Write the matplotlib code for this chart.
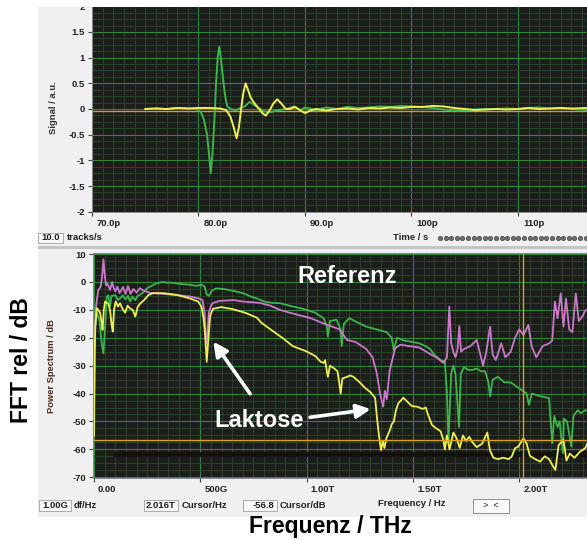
import numpy as np
import matplotlib
matplotlib.use("Agg")
import matplotlib.pyplot as plt
import matplotlib.transforms as mtransforms
from matplotlib.patches import Rectangle
from matplotlib.lines import Line2D
from matplotlib.ticker import MultipleLocator

plt.rcParams["font.family"] = ["Liberation Sans", "DejaVu Sans"]

# --- Zeitsignal (ps, a.u.) ---
t_ref = [75.0, 76.0, 77.0, 78.0, 79.0, 79.8, 80.2, 80.5, 80.8, 81.0, 81.15, 81.3, 81.5,
         81.65, 81.8, 81.95, 82.1, 82.3, 82.5, 82.7, 83.0, 83.5, 84.0, 84.4, 84.8, 85.1,
         85.4, 85.8, 86.2, 86.8, 87.5, 88.2, 89.0, 89.6, 90.0, 91.0, 92.0, 93.0, 94.0,
         95.0, 96.0, 97.0, 98.0, 99.0, 100.0, 101.0, 102.0, 103.0, 104.0, 105.0, 106.0,
         107.0, 108.0, 109.0, 110.0, 111.0, 112.0, 113.0, 114.0, 115.0, 116.5]
s_ref = [0.0, 0.01, 0.0, 0.02, 0.01, 0.0, -0.05, -0.2, -0.5, -0.9, -1.25, -0.9, -0.2,
         0.5, 1.0, 1.21, 1.0, 0.6, 0.25, 0.05, 0.0, -0.02, 0.02, 0.06, 0.14, 0.1,
         0.05, 0.0, -0.05, -0.06, -0.02, 0.0, 0.05, -0.02, 0.03, -0.02, 0.03, 0.0, 0.04,
         0.02, 0.03, 0.05, 0.04, 0.06, 0.05, 0.04, 0.02, -0.01, -0.03, -0.02, -0.01,
         0.0, 0.0, 0.01, 0.0, 0.02, 0.03, 0.01, 0.02, 0.0, -0.02]

t_lak = [75.0, 76.0, 77.0, 78.0, 79.0, 80.0, 81.0, 82.0, 82.6, 83.0, 83.3, 83.58, 83.8,
         84.0, 84.2, 84.42, 84.6, 84.9, 85.3, 85.7, 86.0, 86.32, 86.7, 87.0, 87.4, 87.8,
         88.2, 88.6, 89.06, 89.5, 90.0, 90.5, 91.0, 92.0, 93.0, 94.0, 95.0, 96.0, 97.0,
         98.0, 99.0, 100.0, 101.0, 102.0, 103.0, 104.0, 105.0, 106.0, 107.0, 108.0, 109.0,
         110.0, 111.0, 112.0, 113.0, 114.0, 115.0, 116.5]
s_lak = [0.0, 0.01, 0.0, 0.02, 0.01, 0.02, 0.02, 0.01, -0.02, -0.15, -0.35, -0.57, -0.35,
         0.0, 0.3, 0.5, 0.4, 0.22, 0.1, 0.0, -0.08, -0.13, -0.02, 0.1, 0.19, 0.1,
         0.0, 0.0, 0.04, -0.02, -0.08, -0.03, 0.0, -0.03, 0.0, 0.01, -0.01, 0.02, 0.01,
         0.03, 0.02, 0.04, 0.04, 0.06, 0.05, 0.02, 0.0, -0.02, -0.01, 0.0, -0.01,
         0.0, 0.02, 0.0, 0.01, 0.02, 0.01, 0.02]

t_cursor = -0.04

# --- Spektren (THz, dB) ---
f_gruen = [0.005, 0.013, 0.025, 0.036, 0.044, 0.052, 0.060, 0.067, 0.075, 0.082, 0.100,
           0.112, 0.122, 0.135, 0.148, 0.160, 0.169, 0.180, 0.193, 0.205, 0.218, 0.235,
           0.250, 0.263, 0.280, 0.294, 0.310, 0.326, 0.345, 0.360, 0.388, 0.420, 0.451,
           0.480, 0.505, 0.520, 0.530, 0.540, 0.555, 0.575, 0.610, 0.650, 0.700, 0.740,
           0.766, 0.800, 0.840, 0.875, 0.920, 0.970, 1.000, 1.040, 1.080, 1.095, 1.100,
           1.110, 1.140, 1.160, 1.165, 1.175, 1.200, 1.240, 1.280, 1.330, 1.377, 1.400,
           1.410, 1.425, 1.460, 1.490, 1.530, 1.560, 1.580, 1.600, 1.630, 1.650, 1.660,
           1.667, 1.680, 1.690, 1.700, 1.717, 1.725, 1.740, 1.760, 1.780, 1.800, 1.820,
           1.840, 1.855, 1.863, 1.875, 1.900, 1.930, 1.960, 1.990, 2.035, 2.045, 2.060,
           2.100, 2.140, 2.155, 2.165, 2.180, 2.190, 2.205, 2.210, 2.225, 2.245, 2.255,
           2.275, 2.290, 2.310, 2.320]
db_gruen = [-16, -11, -13.6, -22, -25.6, -16, -5.3, -4.7, -8.8, -5, -4.7,
            -6.5, -5.9, -4.8, -6.2, -5, -7, -5.2, -6.5, -5, -4.5, -3.5,
            -2.2, -1.7, -1.0, -0.5, -0.2, 0.0, -0.3, -0.2, -0.5, -0.8, -1.0,
            -1.4, -1.0, -1.6, -4.5, -5.0, -3.0, -2.3, -2.5, -3.1, -4, -5.3,
            -5.9, -7, -7.5, -7.6, -8.5, -9.4, -10, -11, -13, -16, -19.6,
            -14, -13.5, -17, -23, -15, -13, -14.5, -16, -17, -18, -20,
            -24.4, -20, -21, -21.4, -22, -23, -24, -26, -28, -28.5, -40,
            -57.8, -32.7, -30, -33, -52, -33, -30.5, -31.5, -31.5, -31, -32,
            -32, -36, -41, -35, -34, -36, -36, -37.6, -40, -44, -40,
            -41, -41.6, -57.8, -48, -52, -50, -61.4, -49, -50, -59, -48,
            -46, -47, -46, -46]

f_pink = [0.000, 0.004, 0.008, 0.013, 0.020, 0.031, 0.038, 0.044, 0.050, 0.056, 0.062,
          0.068, 0.075, 0.085, 0.092, 0.100, 0.110, 0.120, 0.136, 0.148, 0.160, 0.172,
          0.185, 0.200, 0.216, 0.230, 0.263, 0.295, 0.330, 0.357, 0.400, 0.450, 0.490,
          0.510, 0.520, 0.527, 0.532, 0.540, 0.550, 0.560, 0.590, 0.656, 0.700, 0.780,
          0.830, 0.875, 0.920, 0.970, 1.020, 1.077, 1.120, 1.155, 1.190, 1.230, 1.280,
          1.310, 1.330, 1.345, 1.360, 1.368, 1.377, 1.390, 1.416, 1.440, 1.486, 1.530,
          1.580, 1.610, 1.643, 1.660, 1.671, 1.680, 1.690, 1.700, 1.710, 1.718, 1.726,
          1.740, 1.770, 1.800, 1.830, 1.845, 1.863, 1.875, 1.890, 1.915, 1.935, 1.960,
          1.980, 2.000, 2.020, 2.043, 2.058, 2.080, 2.110, 2.140, 2.155, 2.168, 2.180,
          2.195, 2.208, 2.220, 2.235, 2.250, 2.266, 2.280, 2.300, 2.310, 2.320]
db_pink = [-44, -20, -10, -6.5, -2.9, -1.7, 2, 8.1, 3, -1.2, -0.5,
           -1.5, -2.9, 0, -2, -3.4, -1.7, -4.0, -1.8, -4.3, -1.5, -4.3,
           -2.5, -3.8, -2.2, -3.0, -3.9, -4.1, -4.3, -4.5, -4.8, -5.2, -5.8,
           -6.5, -11, -22, -20, -11, -8.5, -7.5, -6.8, -6.5, -7, -7.5,
           -8.5, -10, -11, -12, -13, -14.8, -16, -17, -20.8, -21.5, -24,
           -27, -32.7, -40, -44.7, -39, -42, -32, -23.8, -22.5, -23, -23.5,
           -25.8, -27, -29, -27, -8.8, -22, -25, -27, -24, -15.8, -25,
           -24, -23, -20.8, -30, -25, -16, -26, -28, -22, -27, -25,
           -20, -17, -19, -15.4, -23, -27, -23, -22, -21, -7, -13,
           -4.1, -16, -6, -17, -18, -4.1, -14, -12, -10.2, -10]

f_gelb = [0.000, 0.003, 0.006, 0.013, 0.020, 0.028, 0.035, 0.040, 0.046, 0.052, 0.060,
          0.067, 0.075, 0.082, 0.088, 0.094, 0.102, 0.113, 0.122, 0.133, 0.146, 0.158,
          0.170, 0.182, 0.194, 0.205, 0.216, 0.235, 0.257, 0.280, 0.326, 0.388, 0.451,
          0.490, 0.506, 0.515, 0.522, 0.530, 0.537, 0.546, 0.560, 0.598, 0.650, 0.710,
          0.766, 0.787, 0.830, 0.889, 0.935, 0.997, 1.040, 1.066, 1.080, 1.087, 1.095,
          1.100, 1.110, 1.130, 1.145, 1.155, 1.160, 1.168, 1.190, 1.205, 1.220, 1.250,
          1.275, 1.300, 1.322, 1.330, 1.337, 1.345, 1.350, 1.358, 1.366, 1.375, 1.392,
          1.400, 1.410, 1.420, 1.431, 1.455, 1.475, 1.495, 1.520, 1.545, 1.560, 1.573,
          1.590, 1.610, 1.630, 1.643, 1.650, 1.660, 1.672, 1.690, 1.705, 1.720, 1.735,
          1.750, 1.765, 1.780, 1.800, 1.825, 1.850, 1.862, 1.878, 1.900, 1.925, 1.950,
          1.965, 1.980, 1.995, 2.020, 2.035, 2.050, 2.075, 2.098, 2.120, 2.140, 2.160,
          2.170, 2.185, 2.208, 2.222, 2.238, 2.260, 2.286, 2.310, 2.320]
db_gelb = [-55, -25, -16, -9.4, -10, -11, -14, -17.2, -10, -7, -7.5,
           -7.8, -10, -15, -17.8, -10, -7, -8.8, -7.6, -9.5, -11, -8.5,
           -9.5, -10, -12.4, -9, -7.8, -6.5, -4.6, -4.0, -4.0, -4.6, -5.9,
           -7, -9, -13, -18.4, -28.6, -21.5, -12, -9.6, -9, -9.7, -11,
           -12.8, -14.6, -17, -20.2, -23, -24.8, -26.5, -28.6, -29, -28, -32,
           -34, -30, -31, -32, -37, -40, -34.6, -34, -33.5, -34, -36,
           -38, -39.5, -41.5, -48, -53, -57.8, -60.3, -57, -59.5, -56, -53,
           -51, -50, -46, -43.5, -41.5, -43, -44.5, -44.7, -45.5, -45, -48,
           -51.3, -52.5, -53.5, -56.6, -60, -55, -60, -54, -56, -59.5, -55,
           -57, -55.5, -57.5, -59.2, -58, -54, -60.3, -63, -63.5, -63, -63.5,
           -62.5, -59.6, -59, -56, -58, -62.3, -63.5, -64.4, -62.5, -63.5, -66.2,
           -67.4, -58.5, -56.6, -64, -61.5, -63, -60.8, -59.6, -58]

cursor_f = 2.016
cursor_db = -56.8

W, H = 587, 540
fig = plt.figure(figsize=(W / 100, H / 100), dpi=100)
fig.patch.set_facecolor("white")


def box(x0, y0, x1, y1):
    return [x0 / W, 1 - y1 / H, (x1 - x0) / W, (y1 - y0) / H]


def rect(x0, y0, x1, y1, **kw):
    fig.add_artist(Rectangle((x0 / W, 1 - y1 / H), (x1 - x0) / W, (y1 - y0) / H,
                             transform=fig.transFigure, **kw))


def ftext(x, y, s, **kw):
    fig.text(x / W, 1 - y / H, s, **kw)


# Panel-Hintergrund
rect(38, 6, 587, 246, facecolor="#f0f0f0", edgecolor="none", zorder=-2)
rect(38, 246, 587, 249, facecolor="#c4c4c4", edgecolor="none", zorder=-2)
rect(38, 249, 587, 517, facecolor="#f0f0f0", edgecolor="none", zorder=-2)

BG = "#1d1d1b"
MAJ = "#33873d"
MIN = "#274a2a"
TXT = "#202020"


def style(ax):
    ax.set_facecolor(BG)
    ax.set_axisbelow(True)
    ax.grid(which="major", color=MAJ, lw=0.8)
    ax.grid(which="minor", color=MIN, lw=0.6)
    for sp in ax.spines.values():
        sp.set_color("#8a8a8a")
        sp.set_linewidth(0.7)
    ax.tick_params(which="major", direction="out", length=3, width=0.8,
                   color="#404040", labelsize=6.8, labelcolor=TXT, pad=2)
    ax.tick_params(which="minor", length=0)


# --- Zeitbereich ---
ax1 = fig.add_axes(box(92, 6.3, 587, 211.7))
style(ax1)
ax1.set_xlim(70, 116.48)
ax1.set_ylim(-2, 2)
ax1.set_xticks([70, 80, 90, 100, 110])
ax1.set_xticklabels(["70.0p", "80.0p", "90.0p", "100p", "110p"])
ax1.set_yticks([-2, -1.5, -1, -0.5, 0, 0.5, 1, 1.5, 2])
ax1.set_yticklabels(["-2", "-1.5", "-1", "-0.5", "0", "0.5", "1", "1.5", "2"])
ax1.xaxis.set_minor_locator(MultipleLocator(1))
ax1.yaxis.set_minor_locator(MultipleLocator(0.125))
ax1.axhline(t_cursor, color="#d89a2a", lw=1.0, zorder=1.5)
ax1.plot(t_ref, s_ref, color="#3cb54a", lw=1.4)
ax1.plot(t_lak, s_lak, color="#eeee55", lw=1.4)

# --- Frequenzbereich ---
ax2 = fig.add_axes(box(93.2, 252.7, 587, 478.1))
style(ax2)
ax2.set_xlim(-0.004, 2.3187)
ax2.set_ylim(-70.3, 10.5)
ax2.set_xticks([0, 0.5, 1.0, 1.5, 2.0])
ax2.set_xticklabels(["0.00", "500G", "1.00T", "1.50T", "2.00T"])
ax2.set_yticks(range(-70, 11, 10))
ax2.set_yticklabels([str(v) for v in range(-70, 11, 10)])
ax2.xaxis.set_minor_locator(MultipleLocator(0.05))
ax2.yaxis.set_minor_locator(MultipleLocator(2.5))
ax2.axhspan(-62.8, -61.0, xmin=0.04, color="#121212", lw=0, zorder=1)
ax2.plot(f_gruen, db_gruen, color="#3cb54a", lw=1.3, zorder=2)
ax2.plot(f_pink, db_pink, color="#cc77cc", lw=1.3, zorder=2.1)
ax2.plot(f_gelb, db_gelb, color="#eeee55", lw=1.3, zorder=2.2)
ax2.axhline(cursor_db, color="#e0a020", lw=1.0, zorder=2.5)
ax2.axvline(cursor_f, color="#e0a020", lw=1.0, zorder=2.5)

for ax, dx in ((ax1, 5), (ax2, 4)):
    off = mtransforms.ScaledTranslation(dx / 100, 0, fig.dpi_scale_trans)
    for lbl in ax.get_xticklabels():
        lbl.set_ha("left")
        lbl.set_transform(lbl.get_transform() + off)
        lbl.set_fontweight("bold")
    for lbl in ax.get_yticklabels():
        lbl.set_fontweight("bold")

# Beschriftungen im Spektrum
ax2.text(1.19, 1.8, "Referenz", color="white", fontsize=17, fontweight="bold",
         ha="center", va="center", zorder=4)
ax2.text(0.776, -49.8, "Laktose", color="white", fontsize=17, fontweight="bold",
         ha="center", va="center", zorder=4)
pfeil = dict(arrowstyle="-|>,head_length=0.6,head_width=0.3", color="white", lw=2.6,
             mutation_scale=14, shrinkA=0, shrinkB=0)
ax2.annotate("", xy=(0.561, -21.4), xytext=(0.734, -40.1), arrowprops=pfeil, zorder=4)
ax2.annotate("", xy=(1.301, -45.6), xytext=(1.016, -48.5), arrowprops=pfeil, zorder=4)

# Achsentitel
ftext(54, 108, "Signal / a.u.", rotation=90, ha="center", va="center",
      fontsize=6.8, fontweight="bold", color="#303030")
ftext(52, 366, "Power Spectrum / dB", rotation=90, ha="center", va="center",
      fontsize=6.7, fontweight="bold", color="#4a2a1c")
ftext(22, 360, "FFT rel / dB", rotation=90, ha="center", va="center",
      fontsize=16.5, fontweight="bold", color="black")
ftext(330, 526, "Frequenz / THz", ha="center", va="center",
      fontsize=16.5, fontweight="bold", color="black")

# Bedienelemente
ctrl_box = dict(facecolor="#f8f8f8", edgecolor="#a0a0a0", lw=0.6, zorder=3)
small = dict(fontsize=6.8, fontweight="bold", color=TXT, va="center", zorder=4)

rect(38, 233, 63, 243, **ctrl_box)
ftext(60, 238, "10.0", ha="right", **small)
ftext(67, 238, "tracks/s", ha="left", **small)
ftext(393, 237, "Time / s", ha="left", **small)
dots_x = np.arange(440, 590, 5.6)
fig.add_artist(Line2D(dots_x / W, np.full_like(dots_x, 1 - 238 / H), ls="none",
                      marker="o", ms=3.2, mfc="#6a6e68", mec="#3a3a3a", mew=0.4,
                      transform=fig.transFigure, zorder=4))

rect(39, 500, 71, 511, **ctrl_box)
ftext(68, 505.5, "1.00G", ha="right", **small)
ftext(74, 505.5, "df/Hz", ha="left", **small)
rect(144, 500, 178, 511, **ctrl_box)
ftext(176, 505.5, "2.016T", ha="right", **small)
ftext(182, 505.5, "Cursor/Hz", ha="left", **small)
rect(243, 500, 277, 511, **ctrl_box)
ftext(274, 505.5, "-56.8", ha="right", **small)
ftext(280, 505.5, "Cursor/dB", ha="left", **small)
ftext(412, 503, "Frequency / Hz", ha="center", **small)
rect(473, 499, 509, 513, facecolor="#fafafa", edgecolor="#909090", lw=0.7, zorder=3)
ftext(491, 506, ">  <", ha="center", fontsize=6.5, color=TXT, va="center", zorder=4)

# oberer Rand abgeschnitten
rect(0, 0, 587, 7, facecolor="white", edgecolor="none", zorder=10)

fig.savefig("out.png", dpi=100)
